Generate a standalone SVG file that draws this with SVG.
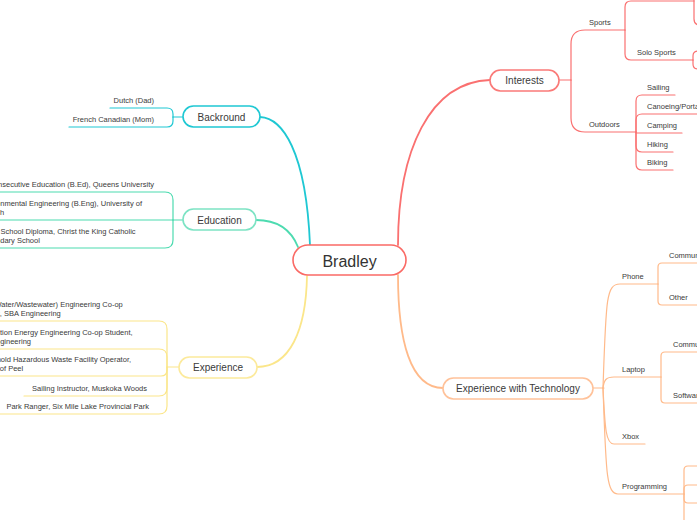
<svg xmlns="http://www.w3.org/2000/svg" width="697" height="520" viewBox="0 0 697 520">
<style>
text{font-family:"Liberation Sans",Arial,sans-serif;fill:#3a3a3a}
.sm{font-size:7.5px}
.md{font-size:10px;text-anchor:middle}
.lg{font-size:16px;text-anchor:middle;fill:#333}
.c{fill:none;stroke-linecap:round;stroke-linejoin:round}
.teal{stroke:#1fc8d3}
.green{stroke:#4ddbb0}
.yellow{stroke:#fbe68a}
.red{stroke:#fa7070}
.orange{stroke:#ffba8a}
.main{stroke-width:1.8}
.sub{stroke-width:1.2}
.node{fill:#fff;stroke-width:1.6}
</style>
<rect width="697" height="520" fill="#fff"/>
<g id="connectors">
  <path class="c main teal" d="M260,117 C282,118 306,150 310,245"/>
  <path class="c main green" d="M256,220 C280,220 292,232 298,247"/>
  <path class="c main yellow" d="M307,276 C306,330 290,367 257,367"/>
  <path class="c main red" d="M398,245 C398,150 430,82 490,80"/>
  <path class="c main orange" d="M398,275 C398,340 410,388 443,388"/>
  <g class="c sub teal">
    <path d="M173,117 H183"/>
    <path d="M110,108 H167 Q173,108 173,114 V117"/>
    <path d="M69,127 H167 Q173,127 173,121 V117"/>
  </g>
  <g class="c sub green">
    <path d="M173,220 H183"/>
    <path d="M-2,192 H165 Q173,192 173,200 V220"/>
    <path d="M-2,220 H173"/>
    <path d="M-2,248 H165 Q173,248 173,240 V220"/>
  </g>
  <g class="c sub yellow">
    <path d="M167,367 H179"/>
    <path d="M-2,321 H159 Q167,321 167,329 V367"/>
    <path d="M-2,349 H159 Q167,349 167,357 V367"/>
    <path d="M-2,376 H161 Q167,376 167,370 V367"/>
    <path d="M24,396 H159 Q167,396 167,388 V367"/>
    <path d="M-2,414 H159 Q167,414 167,406 V367"/>
  </g>
  <g class="c sub red">
    <path d="M559,80 H571"/>
    <path d="M571,80 V44 Q571,30 585,30 H625"/>
    <path d="M571,80 V118 Q571,132 585,132 H636"/>
    <path d="M625,30 V7 Q625,1 631,1 H694"/>
    <path d="M694,-20 V19 Q694,25 700,25"/>
    <path d="M625,30 V54 Q625,60 631,60 H693"/>
    <path d="M693,60 V56 Q693,51 698,51"/>
    <path d="M693,60 V64 Q693,69 698,69"/>
    <path d="M636,132 V101 Q636,95 642,95 H675"/>
    <path d="M636,132 V120 Q636,114 642,114 H700"/>
    <path d="M636,133 H682"/>
    <path d="M636,132 V146 Q636,152 642,152 H673"/>
    <path d="M636,132 V164 Q636,170 642,170 H673"/>
  </g>
  <g class="c sub orange">
    <path d="M593,388 H604"/>
    <path d="M603,388 C606,300 606,284 620,284 H658"/>
    <path d="M603,388 C604,380 606,377 614,377 H661"/>
    <path d="M603,388 C605,430 606,444 614,444 H645"/>
    <path d="M603,388 C606,470 606,494 618,494 H684"/>
    <path d="M658,284 V267 Q658,263 662,263 H700"/>
    <path d="M658,284 V301 Q658,305 662,305 H700"/>
    <path d="M661,377 V356 Q661,352 665,352 H700"/>
    <path d="M661,377 V399 Q661,403 665,403 H700"/>
    <path d="M684,494 V470 Q684,466 688,466 H700"/>
    <path d="M684,494 V489 Q684,485 688,485 H700"/>
    <path d="M684,494 V499 Q684,503 688,503 H700"/>
    <path d="M684,494 V530"/>
  </g>
</g>
<g id="bradley">
  <rect class="node" x="293" y="245" width="113" height="30" rx="15" stroke="#fa6a65" stroke-width="2.5"/>
  <text class="lg" x="349.5" y="266.5">Bradley</text>
</g>
<g id="backround">
  <rect class="node teal" x="183" y="106" width="77" height="21" rx="10.5" stroke="#4fd6de"/>
  <text class="md" x="221.5" y="120.5">Backround</text>
</g>
<g id="dutch"><text class="sm" x="154" y="103" text-anchor="end">Dutch (Dad)</text></g>
<g id="french"><text class="sm" x="154" y="122" text-anchor="end">French Canadian (Mom)</text></g>
<g id="education">
  <rect class="node" x="183" y="209" width="73" height="21" rx="10.5" stroke="#7de3c4"/>
  <text class="md" x="219.5" y="223.5">Education</text>
</g>
<g id="edu1"><text class="sm" x="154" y="187" text-anchor="end">Consecutive Education (B.Ed), Queens University</text></g>
<g id="edu2"><text class="sm" x="-21" y="206">Environmental Engineering (B.Eng), University of</text><text class="sm" x="-20" y="215">Guelph</text></g>
<g id="edu3"><text class="sm" x="-17" y="234">High School Diploma, Christ the King Catholic</text><text class="sm" x="-21" y="243">Secondary School</text></g>
<g id="experience">
  <rect class="node" x="179" y="357" width="78" height="21" rx="10.5" stroke="#fcea9c"/>
  <text class="md" x="218" y="371">Experience</text>
</g>
<g id="exp1"><text class="sm" x="-8" y="307">(Water/Wastewater) Engineering Co-op</text><text class="sm" x="-26" y="316">Student, SBA Engineering</text></g>
<g id="exp2"><text class="sm" x="-25" y="335">Generation Energy Engineering Co-op Student,</text><text class="sm" x="-9" y="344">Engineering</text></g>
<g id="exp3"><text class="sm" x="-25" y="362">Household Hazardous Waste Facility Operator,</text><text class="sm" x="-26" y="371">Region of Peel</text></g>
<g id="exp4"><text class="sm" x="147" y="391" text-anchor="end">Sailing Instructor, Muskoka Woods</text></g>
<g id="exp5"><text class="sm" x="149" y="409" text-anchor="end">Park Ranger, Six Mile Lake Provincial Park</text></g>
<g id="interests">
  <rect class="node" x="490" y="70" width="69" height="21" rx="10.5" stroke="#fa7a78"/>
  <text class="md" x="524.5" y="84">Interests</text>
</g>
<g id="sports"><text class="sm" x="589" y="25">Sports</text></g>
<g id="solo"><text class="sm" x="637" y="55">Solo Sports</text></g>
<g id="outdoors"><text class="sm" x="589" y="127">Outdoors</text></g>
<g id="sailing"><text class="sm" x="647" y="90">Sailing</text></g>
<g id="canoeing"><text class="sm" x="647" y="109">Canoeing/Portaging</text></g>
<g id="camping"><text class="sm" x="647" y="128">Camping</text></g>
<g id="hiking"><text class="sm" x="647" y="147">Hiking</text></g>
<g id="biking"><text class="sm" x="647" y="165">Biking</text></g>
<g id="tech">
  <rect class="node" x="443" y="378" width="150" height="21" rx="10.5" stroke="#ffc29a"/>
  <text class="md" x="518" y="392">Experience with Technology</text>
</g>
<g id="phone"><text class="sm" x="622" y="279">Phone</text></g>
<g id="phone-comm"><text class="sm" x="669" y="258">Communication</text></g>
<g id="phone-other"><text class="sm" x="669" y="300">Other</text></g>
<g id="laptop"><text class="sm" x="622" y="372">Laptop</text></g>
<g id="laptop-comm"><text class="sm" x="673" y="347">Communication</text></g>
<g id="laptop-soft"><text class="sm" x="673" y="398">Software</text></g>
<g id="xbox"><text class="sm" x="622" y="439">Xbox</text></g>
<g id="programming"><text class="sm" x="622" y="489">Programming</text></g>
</svg>
